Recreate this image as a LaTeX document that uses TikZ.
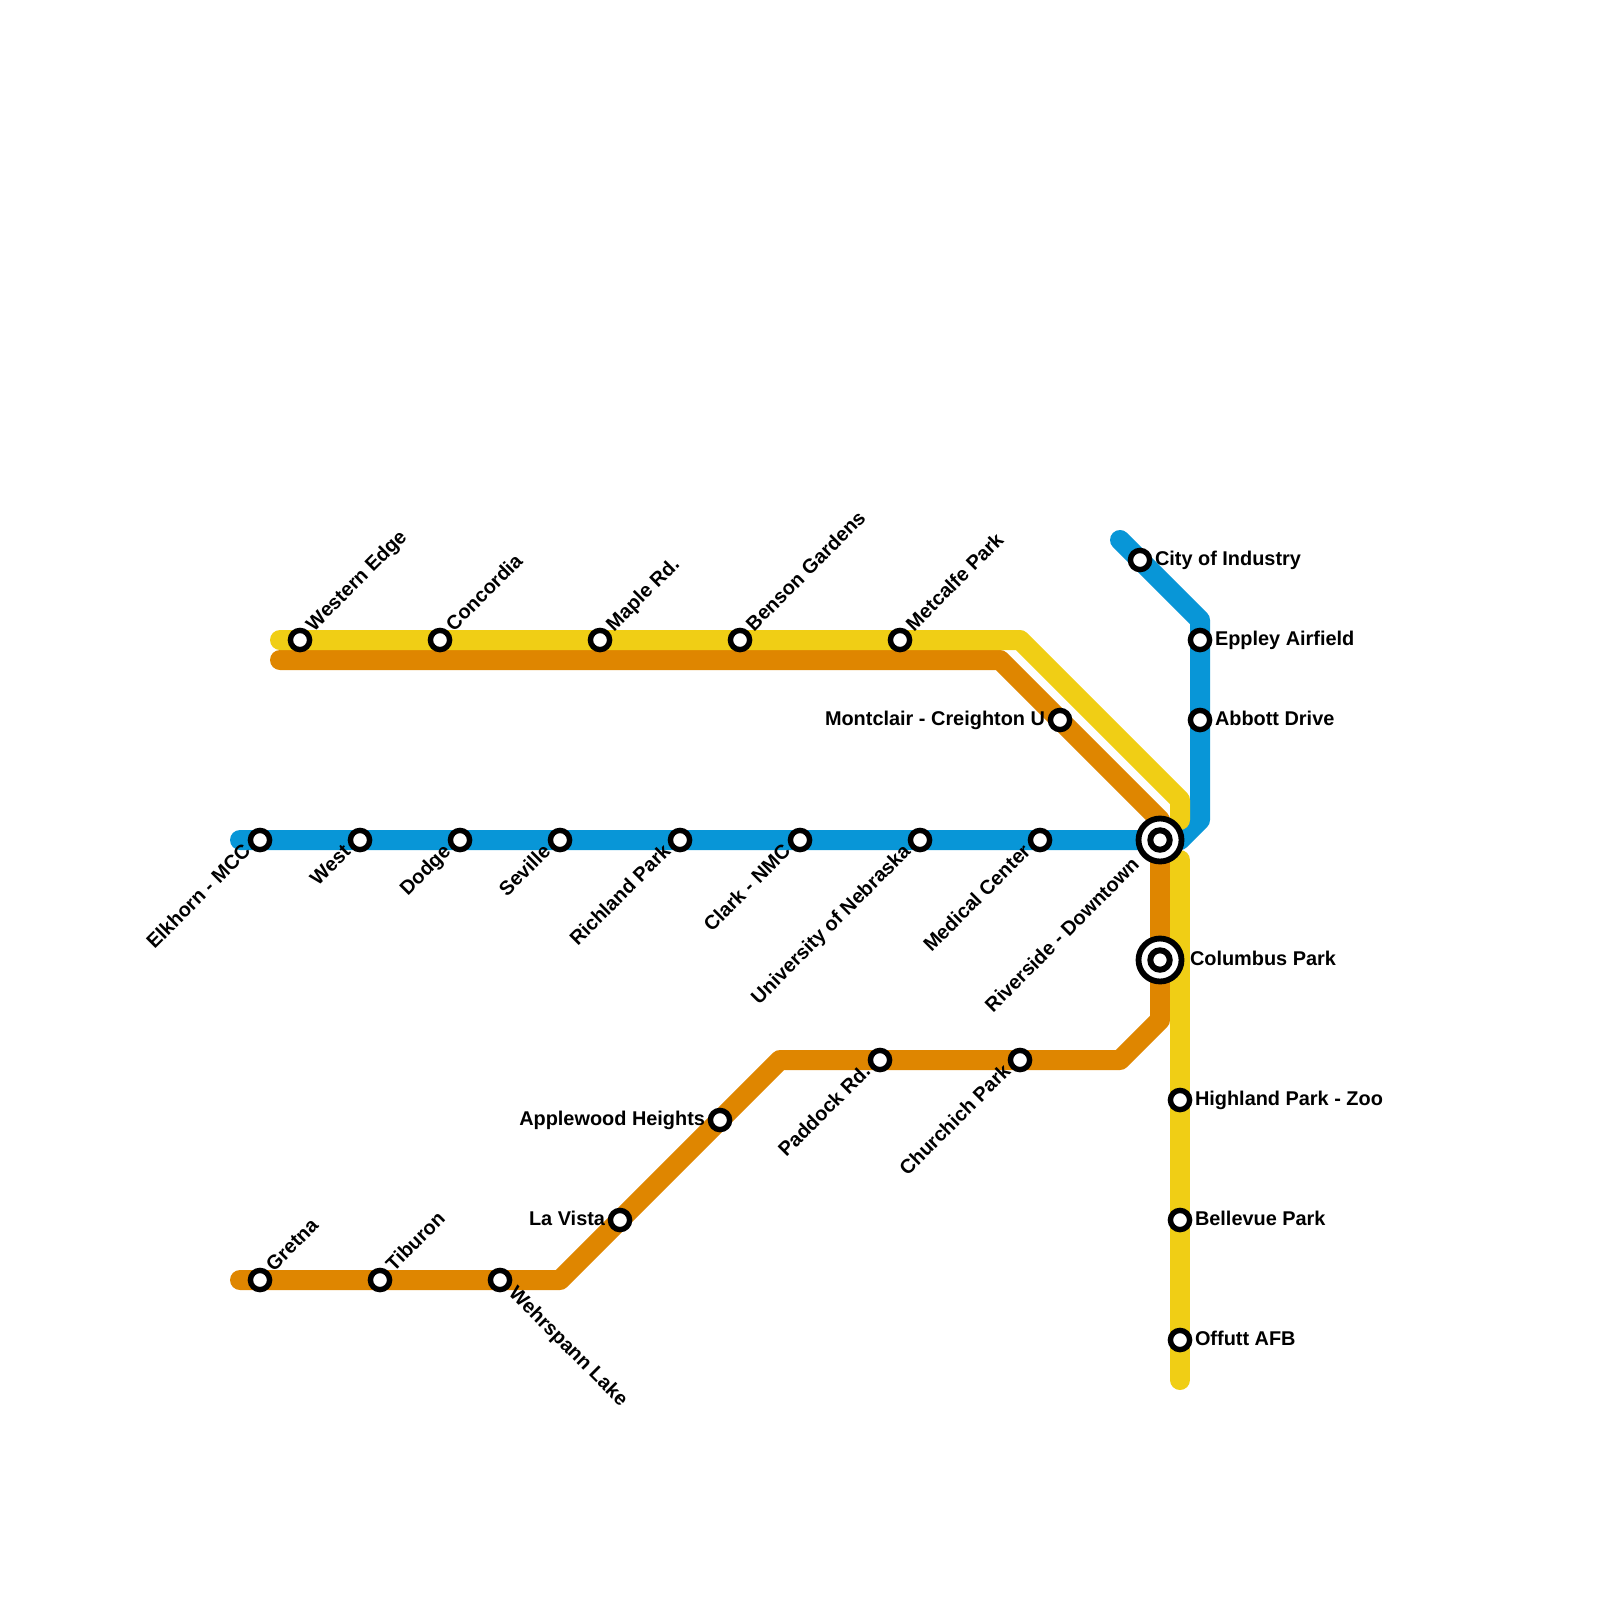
\documentclass[tikz,border=0pt]{standalone}
\usepackage{fontspec}
\setmainfont{Liberation Sans}
\tikzset{
  x=1pt,y=-1pt,
  metro/.style={line width=20pt,line cap=round,line join=round},
  stn/.style={circle,draw=black,fill=white,line width=5.4pt,minimum size=19.2pt,inner sep=0pt,outer sep=0pt},
  hubcore/.style={circle,draw=black,fill=white,line width=6pt,minimum size=19.4pt,inner sep=0pt,outer sep=0pt},
  hubring/.style={circle,draw=black,fill=white,line width=5.8pt,minimum size=43pt,inner sep=0pt,outer sep=0pt},
  lab/.style={font=\fontsize{19.9}{22}\selectfont\bfseries,text=black,inner sep=0pt,outer sep=0pt},
  lr/.style={lab,anchor=base west,xshift=15pt,yshift=-5.2pt},
  ll/.style={lab,anchor=base east,xshift=-15pt,yshift=-5.2pt},
  lhub/.style={lab,anchor=base west,xshift=30pt,yshift=-5.2pt},
  lur/.style={lab,anchor=base west,rotate=45,xshift=15.6pt,yshift=-4.3pt},
  ldr/.style={lab,anchor=base west,rotate=-45,xshift=15.9pt,yshift=-4.9pt},
  ldl/.style={lab,anchor=base east,rotate=45,xshift=-14.9pt,yshift=-3pt},
}
\definecolor{lineblue}{HTML}{0896D7}
\definecolor{lineyellow}{HTML}{F0CE15}
\definecolor{lineorange}{HTML}{DF8600}
\begin{document}
\begin{tikzpicture}
\useasboundingbox (0,0) rectangle (1600,1600);
% route waypoints
\coordinate (b0) at (1120,540);
\coordinate (b1) at (1200,620);
\coordinate (b2) at (1200,820);
\coordinate (b3) at (1180,840);
\coordinate (b4) at (240,840);
\coordinate (y0) at (280,640);
\coordinate (y1) at (1020,640);
\coordinate (y2) at (1180,800);
\coordinate (y3) at (1180,820);
\coordinate (y4) at (1180,860);
\coordinate (y5) at (1180,1380);
\coordinate (o0) at (280,660);
\coordinate (o1) at (1000,660);
\coordinate (o2) at (1160,820);
\coordinate (o3) at (1160,1020);
\coordinate (o4) at (1120,1060);
\coordinate (o5) at (780,1060);
\coordinate (o6) at (560,1280);
\coordinate (o7) at (240,1280);
% lines
\draw[metro,lineblue] (b0)--(b1)--(b2)--(b3)--(b4);
\draw[metro,lineorange] (o0)--(o1)--(o2)--(o3)--(o4)--(o5)--(o6)--(o7);
\draw[metro,lineyellow] (y0)--(y1)--(y2)--(y3);
\draw[metro,lineyellow] (y4)--(y5);
% stations
\foreach \n/\x/\y in {s1/300/640,s2/440/640,s3/600/640,s4/740/640,s5/900/640,s6/1060/720,
 s7/1140/560,s8/1200/640,s9/1200/720,s10/260/840,s11/360/840,s12/460/840,s13/560/840,
 s14/680/840,s15/800/840,s16/920/840,s17/1040/840,s20/1180/1100,s21/1180/1220,s22/1180/1340,
 s23/260/1280,s24/380/1280,s25/500/1280,s26/620/1220,s27/720/1120,s28/880/1060,s29/1020/1060}
  \node[stn] (\n) at (\x,\y) {};
\node[hubring] (h1o) at (1160,840) {};
\node[hubcore] (h1) at (1160,840) {};
\node[hubring] (h2o) at (1160,960) {};
\node[hubcore] (h2) at (1160,960) {};
% labels
\node[lur] (t1) at (s1) {Western Edge};
\node[lur] (t2) at (s2) {Concordia};
\node[lur] (t3) at (s3) {Maple Rd.};
\node[lur] (t4) at (s4) {Benson Gardens};
\node[lur] (t5) at (s5) {Metcalfe Park};
\node[ll] (t6) at (s6) {Montclair - Creighton U};
\node[lr] (t7) at (s7) {City of Industry};
\node[lr] (t8) at (s8) {Eppley Airfield};
\node[lr] (t9) at (s9) {Abbott Drive};
\node[ldl] (t10) at (s10) {Elkhorn - MCC};
\node[ldl] (t11) at (s11) {West};
\node[ldl] (t12) at (s12) {Dodge};
\node[ldl] (t13) at (s13) {Seville};
\node[ldl] (t14) at (s14) {Richland Park};
\node[ldl] (t15) at (s15) {Clark - NMC};
\node[ldl] (t16) at (s16) {University of Nebraska};
\node[ldl] (t17) at (s17) {Medical Center};
\node[lab,anchor=base east,rotate=45,xshift=-32.5pt,yshift=-4.5pt] (t18) at (h1) {Riverside - Downtown};
\node[lhub] (t19) at (h2) {Columbus Park};
\node[lr] (t20) at (s20) {Highland Park - Zoo};
\node[lr] (t21) at (s21) {Bellevue Park};
\node[lr] (t22) at (s22) {Offutt AFB};
\node[lur] (t23) at (s23) {Gretna};
\node[lur] (t24) at (s24) {Tiburon};
\node[ldr] (t25) at (s25) {Wehrspann Lake};
\node[ll] (t26) at (s26) {La Vista};
\node[ll] (t27) at (s27) {Applewood Heights};
\node[ldl] (t28) at (s28) {Paddock Rd.};
\node[ldl] (t29) at (s29) {Churchich Park};
\end{tikzpicture}
\end{document}
